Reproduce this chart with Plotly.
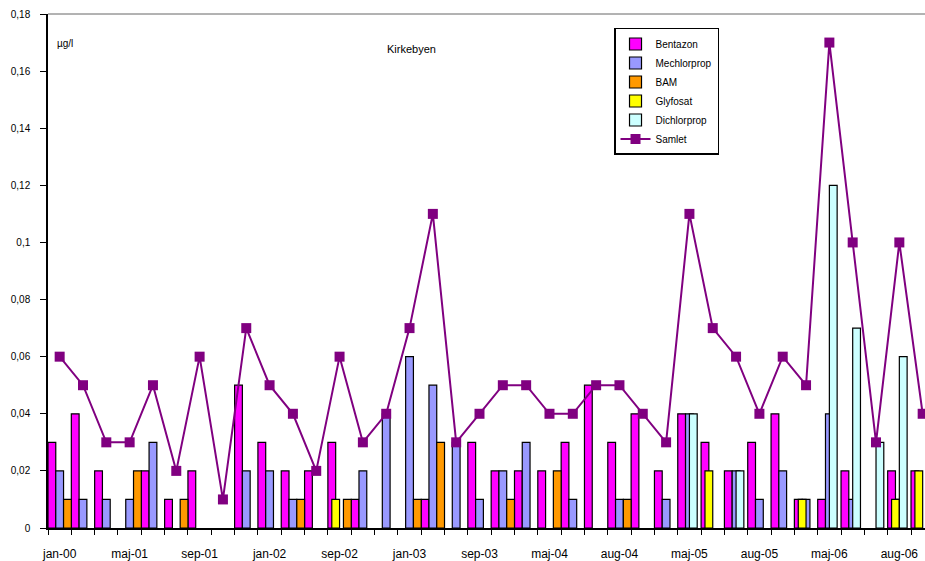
import plotly.graph_objects as go

# Sample index (one per sampling round) and the labels shown on every third round
n_samples = 38
tick_labels = ["jan-00", "maj-01", "sep-01", "jan-02", "sep-02", "jan-03", "sep-03",
               "maj-04", "aug-04", "maj-05", "aug-05", "maj-06", "aug-06"]
label_step = 3

# Concentrations (µg/l) per sampling round
bentazon = [0.03, 0.04, 0.02, 0, 0.02, 0.01, 0.02, 0, 0.05, 0.03, 0.02, 0.02, 0.03, 0.01,
            0, 0, 0.01, 0, 0.03, 0.02, 0.02, 0.02, 0.03, 0.05, 0.03, 0.04, 0.02, 0.04,
            0.03, 0.02, 0.03, 0.04, 0.01, 0.01, 0.02, 0, 0.02, 0.02]
mechlorprop = [0.02, 0.01, 0.01, 0.01, 0.03, 0, 0, 0, 0.02, 0.02, 0.01, 0, 0, 0.02,
               0.04, 0.06, 0.05, 0.03, 0.01, 0.02, 0.03, 0, 0.01, 0, 0.01, 0, 0.01, 0.04,
               0, 0.02, 0.01, 0.02, 0.01, 0.04, 0.01, 0, 0.01, 0]
bam = [0.01, 0, 0, 0.02, 0, 0.01, 0, 0, 0, 0, 0.01, 0, 0.01, 0,
       0, 0.01, 0.03, 0, 0, 0.01, 0, 0.02, 0, 0, 0.01, 0, 0, 0,
       0, 0, 0, 0, 0, 0, 0, 0, 0, 0]
glyfosat = [0, 0, 0, 0, 0, 0, 0, 0, 0, 0, 0, 0, 0.01, 0,
            0, 0, 0, 0, 0, 0, 0, 0, 0, 0, 0, 0, 0, 0,
            0.02, 0, 0, 0, 0.01, 0, 0, 0, 0.01, 0.02]
dichlorprop = [0, 0, 0, 0, 0, 0, 0, 0, 0, 0, 0, 0, 0, 0,
               0, 0, 0, 0, 0, 0, 0, 0, 0, 0, 0, 0, 0, 0.04,
               0, 0.02, 0, 0, 0, 0.12, 0.07, 0.03, 0.06, 0]
samlet = [0.06, 0.05, 0.03, 0.03, 0.05, 0.02, 0.06, 0.01, 0.07, 0.05, 0.04, 0.02, 0.06, 0.03,
          0.04, 0.07, 0.11, 0.03, 0.04, 0.05, 0.05, 0.04, 0.04, 0.05, 0.05, 0.04, 0.03, 0.11,
          0.07, 0.06, 0.04, 0.06, 0.05, 0.17, 0.10, 0.03, 0.10, 0.04]

y_ticks = [0, 0.02, 0.04, 0.06, 0.08, 0.1, 0.12, 0.14, 0.16, 0.18]

x = list(range(n_samples))
FONT = "Liberation Sans, Arial, sans-serif"


def nz(values):
    return [v if v else None for v in values]


# (name, values, colour, offset within the sample slot)
# first three share the primary cluster, last two sit in a centred secondary cluster
bar_series = [
    ("Bentazon", bentazon, "#FF00FF", -0.5),
    ("Mechlorprop", mechlorprop, "#9999FF", -1 / 6),
    ("BAM", bam, "#FF9900", 1 / 6),
    ("Glyfosat", glyfosat, "#FFFF00", -1 / 3),
    ("Dichlorprop", dichlorprop, "#CCFFFF", 0.0),
]

fig = go.Figure()
for name, vals, col, off in bar_series:
    fig.add_trace(go.Bar(
        x=x, y=nz(vals), name=name,
        width=1 / 3, offset=off,
        marker=dict(color=col, line=dict(color="black", width=1.2)),
    ))

fig.add_trace(go.Scatter(
    x=x, y=samlet, name="Samlet", mode="lines+markers",
    line=dict(color="#800080", width=2),
    marker=dict(symbol="square", size=10, color="#800080"),
))

fig.update_layout(
    width=925, height=561,
    margin=dict(l=48, r=0, t=14, b=33),
    paper_bgcolor="white", plot_bgcolor="white",
    barmode="overlay",
    font=dict(family=FONT, color="black", size=10),
    showlegend=True,
    legend=dict(
        x=0.6454, y=0.9728, xanchor="left", yanchor="top",
        bgcolor="white", bordercolor="black", borderwidth=1.5,
        font=dict(size=10, family=FONT), itemwidth=30, tracegroupgap=0,
    ),
    xaxis=dict(
        range=[-0.5, 37.1],
        tickvals=[i * label_step for i in range(len(tick_labels))],
        ticktext=tick_labels,
        ticks="", ticklabelstandoff=14,
        tickfont=dict(size=12, family=FONT),
        showgrid=False, zeroline=False,
        showline=True, linecolor="black", linewidth=1.5,
        minor=dict(ticks="outside", ticklen=5, tickcolor="black", tickwidth=1.2,
                   tick0=-0.5, dtick=1, showgrid=False),
    ),
    yaxis=dict(
        range=[0, 0.18],
        tickvals=y_ticks,
        ticktext=[("%g" % v).replace(".", ",") for v in y_ticks],
        ticks="outside", ticklen=6, tickcolor="black", tickwidth=1.2,
        ticklabelstandoff=8,
        tickfont=dict(size=10, family=FONT),
        showgrid=False, zeroline=False,
        showline=True, linecolor="black", linewidth=1.5,
    ),
    shapes=[dict(type="line", xref="paper", yref="paper", x0=0, x1=1, y0=1, y1=1,
                 line=dict(color="#666666", width=1))],
    annotations=[
        dict(text="Kirkebyen", xref="paper", yref="paper", x=0.415, y=0.947,
             showarrow=False, font=dict(size=11, family=FONT)),
        dict(text="µg/l", xref="paper", yref="paper", x=0.008, y=0.957,
             xanchor="left", showarrow=False, font=dict(size=10, family=FONT)),
    ],
)

fig.write_html("out.html")
